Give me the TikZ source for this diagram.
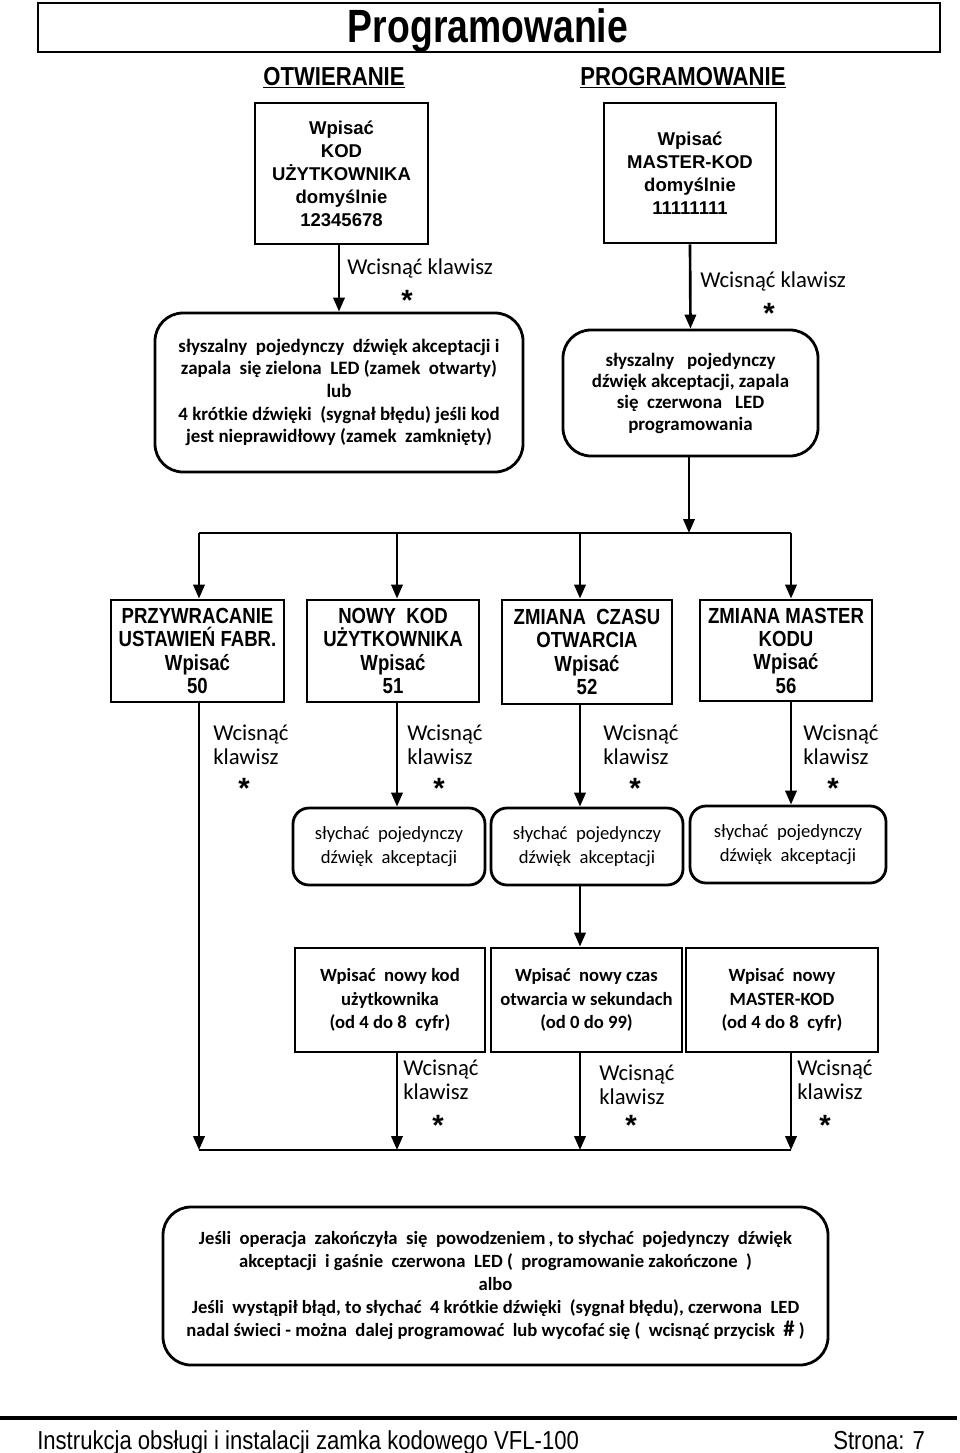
\documentclass[tikz,border=0pt]{standalone}
\usepackage{fontspec}
\setmainfont{Liberation Sans}
\newfontfamily\narrowfont[FakeStretch=0.85]{Liberation Sans}
\newfontfamily\titlefont[FakeStretch=0.8]{Liberation Sans}
\newfontfamily\calfont{Carlito}
\usetikzlibrary{arrows.meta}
\newcommand\fsz[2]{\fontsize{#1}{#2}\selectfont}
\newcommand\bx[7]{\node[#2, minimum width={(#5-#3)*0.75pt}, minimum height={(#6-#4)*0.75pt}] (#1) at ({(#3+#5)/2},{(#4+#6)/2}) {#7};}
\begin{document}
\begin{tikzpicture}[x=0.75pt,y=-0.75pt,
  sqbox/.style={draw, line width=2.1pt, inner sep=0pt, align=center},
  rbox/.style={sqbox, rounded corners=21pt},
  topfont/.style={font=\bfseries\fsz{13.9}{17.3}},
  headfont/.style={font=\narrowfont\bfseries\fsz{16.4}{17.5}},
  calb/.style={font=\calfont\bfseries\fsz{14.2}{17}},
  calr/.style={font=\calfont\fsz{14}{18}},
  lbl/.style={inner sep=0pt, anchor=west, align=left, font=\calfont\fsz{17}{18}},
  star/.style={inner sep=0pt, font=\bfseries\fsz{22}{22}},
  conn/.style={line width=2pt, -{Triangle[length=10.5pt,width=8.5pt]}},
  line/.style={line width=2pt}]
\useasboundingbox (0,0) rectangle (960,1453);
% title
\bx{title}{draw, line width=1.6pt, inner sep=0pt}{38}{3}{940}{52}{}
\node[inner sep=0pt, font=\titlefont\bfseries\fsz{35}{35}] (titletext) at (488,31) {Programowanie};
\node[inner sep=0pt, font=\narrowfont\bfseries\fsz{19.5}{20}] (hOtw) at (334,78) {\underline{OTWIERANIE}};
\node[inner sep=0pt, font=\narrowfont\bfseries\fsz{19.5}{20}] (hProg) at (683,78) {\underline{PROGRAMOWANIE}};
% top boxes
\bx{A1}{sqbox, topfont}{255}{103}{428}{244}{Wpisać\\KOD\\UŻYTKOWNIKA\\domyślnie\\12345678}
\bx{B1}{sqbox, topfont}{604}{103}{776}{243}{Wpisać\\MASTER-KOD\\domyślnie\\11111111}
\bx{A2}{rbox, calb}{155}{313}{523}{472}{słyszalny\ \ pojedynczy\ \ dźwięk akceptacji i\\zapala\ \ się zielona\ \ LED (zamek\ \ otwarty)\\lub\\4 krótkie dźwięki\ \ (sygnał błędu) jeśli kod\\jest nieprawidłowy (zamek\ \ zamknięty)}
\bx{B2}{rbox, calb, font=\calfont\bfseries\fsz{14.2}{16}}{563}{330}{818}{456}{słyszalny\ \ \ pojedynczy\\dźwięk\ akceptacji,\ zapala\\się\ \ czerwona\ \ \ LED\\programowania}
\draw[conn] (A2.north |- A1.south) -- (A2.north);
\draw[conn] (B1.south) -- (B2.north);
\node[lbl] (lA) at (347,268) {Wcisnąć klawisz};
\node[star] (sA) at (407,300) {*};
\node[lbl] (lB) at (700,281) {Wcisnąć klawisz};
\node[star] (sB) at (769,313) {*};
% bus
\coordinate (bus1) at (199,533);
\coordinate (bus2) at (397,533);
\coordinate (bus3) at (580,533);
\coordinate (bus4) at (791,533);
\coordinate (busJ) at (689,533);
\draw[conn] (B2.south -| busJ) -- (busJ);
\draw[line] (bus1) -- (bus4);
% row 2
\bx{C1}{sqbox, headfont}{111}{600}{284}{702}{PRZYWRACANIE\\USTAWIEŃ FABR.\\Wpisać\\50}
\bx{C2}{sqbox, headfont}{307}{600}{479}{702}{NOWY\ \ KOD\\UŻYTKOWNIKA\\Wpisać\\51}
\bx{C3}{sqbox, headfont}{502}{600}{672}{704}{ZMIANA\ \ CZASU\\OTWARCIA\\Wpisać\\52}
\bx{C4}{sqbox, headfont}{700}{600}{872}{701}{ZMIANA MASTER\\KODU\\Wpisać\\56}
\draw[conn] (bus1) -- (bus1 |- C1.north);
\draw[conn] (bus2) -- (bus2 |- C2.north);
\draw[conn] (bus3) -- (bus3 |- C3.north);
\draw[conn] (bus4) -- (bus4 |- C4.north);
% row 3
\bx{D2}{rbox, calr, rounded corners=12pt}{293}{808}{485}{885}{słychać\ \ pojedynczy\\dźwięk\ \ akceptacji}
\bx{D3}{rbox, calr, rounded corners=12pt}{491}{808}{683}{885}{słychać\ \ pojedynczy\\dźwięk\ \ akceptacji}
\bx{D4}{rbox, calr, rounded corners=12pt}{690}{806}{886}{883}{słychać\ \ pojedynczy\\dźwięk\ \ akceptacji}
\draw[conn] (C2.south -| bus2) -- (D2.north -| bus2);
\draw[conn] (C3.south -| bus3) -- (D3.north -| bus3);
\draw[conn] (C4.south -| bus4) -- (D4.north -| bus4);
\node[lbl] (l1) at (213,745) {Wcisnąć\\klawisz};
\node[lbl] (l2) at (407,745) {Wcisnąć\\klawisz};
\node[lbl] (l3) at (603,745) {Wcisnąć\\klawisz};
\node[lbl] (l4) at (803,745) {Wcisnąć\\klawisz};
\node[star] (s1) at (244,788) {*};
\node[star] (s2) at (439,788) {*};
\node[star] (s3) at (635,788) {*};
\node[star] (s4) at (833,788) {*};
% row 4
\bx{E1}{sqbox, calb, font=\calfont\bfseries\fsz{14}{17.6}}{295}{948}{485}{1052}{Wpisać\ \ nowy kod\\użytkownika\\(od 4 do 8\ \ cyfr)}
\bx{E2}{sqbox, calb, font=\calfont\bfseries\fsz{14}{17.6}}{491}{948}{682}{1052}{Wpisać\ \ nowy czas\\otwarcia w sekundach\\(od 0 do 99)}
\bx{E3}{sqbox, calb, font=\calfont\bfseries\fsz{14}{17.6}}{686}{948}{878}{1052}{Wpisać\ \ nowy\\MASTER-KOD\\(od 4 do 8\ \ cyfr)}
\draw[conn] (D3.south -| bus3) -- (E2.north -| bus3);
% bottom bus
\coordinate (bot1) at (199,1150);
\coordinate (bot2) at (397,1150);
\coordinate (bot3) at (580,1150);
\coordinate (bot4) at (791,1150);
\draw[conn] (C1.south -| bot1) -- (bot1);
\draw[conn] (E1.south -| bot2) -- (bot2);
\draw[conn] (E2.south -| bot3) -- (bot3);
\draw[conn] (E3.south -| bot4) -- (bot4);
\draw[line] (bot1) -- (bot4);
\node[lbl] (m1) at (403,1080) {Wcisnąć\\klawisz};
\node[lbl] (m2) at (599,1085) {Wcisnąć\\klawisz};
\node[lbl] (m3) at (797,1080) {Wcisnąć\\klawisz};
\node[star] (t1) at (438,1125) {*};
\node[star] (t2) at (631,1125) {*};
\node[star] (t3) at (825,1125) {*};
% final box
\bx{F}{rbox, calb, font=\calfont\bfseries\fsz{14}{17.25}}{163}{1207}{828}{1365}{Jeśli\ \ operacja\ \ zakończyła\ \ się\ \ powodzeniem\,,\ to słychać\ \ pojedynczy\ \ dźwięk\\akceptacji\ \ i gaśnie\ \ czerwona\ \ LED (\ \ programowanie zakończone\ \ )\\albo\\Jeśli\ \ wystąpił błąd, to słychać\ \ 4 krótkie dźwięki\ \ (sygnał błędu), czerwona\ \ LED\\nadal świeci - można\ \ dalej programować\ \ lub wycofać się (\ \ wcisnąć przycisk\ \ {\fsz{17}{17}\#} )}
% footer
\coordinate (fl) at (0,1418);
\coordinate (fr) at (957,1418);
\draw[line width=3pt] (fl) -- (fr);
\node[inner sep=0pt, anchor=base west, font=\narrowfont\fsz{19.5}{20}] (foot) at (37,1449) {Instrukcja obsługi i instalacji zamka kodowego VFL-100};
\node[inner sep=0pt, anchor=base west, font=\narrowfont\fsz{19.5}{20}] (page) at (833,1449) {Strona: 7};
\end{tikzpicture}
\end{document}
